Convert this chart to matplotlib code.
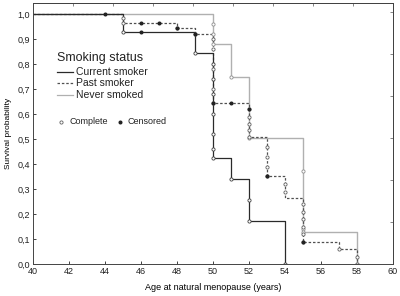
import matplotlib
matplotlib.use("Agg")
import matplotlib.pyplot as plt
from matplotlib.lines import Line2D

plt.rcParams['font.family'] = ['Liberation Sans', 'DejaVu Sans']

# Kaplan-Meier step data (time, survival)
current_t = [40, 45, 49, 50, 51, 52, 54]
current_s = [1.0, 0.928, 0.844, 0.424, 0.34, 0.172, 0.0]
past_t = [40, 45, 48, 49, 50, 52, 53, 54, 55, 57, 58]
past_s = [1.0, 0.963, 0.943, 0.92, 0.645, 0.51, 0.352, 0.264, 0.088, 0.06, 0.0]
never_t = [40, 50, 51, 52, 55, 58]
never_s = [1.0, 0.88, 0.75, 0.504, 0.128, 0.0]

# complete (event) markers
current_cx = [45, 49, 50, 50, 50, 50, 50, 50, 50, 51, 52, 52, 54]
current_cy = [0.928, 0.844, 0.80, 0.74, 0.68, 0.60, 0.52, 0.46, 0.424, 0.34, 0.256, 0.172, 0.0]
past_cx = [45, 45, 48, 49, 50, 50, 50, 50, 50, 52, 52, 52, 52, 53, 53, 53, 53, 54, 54, 55, 55, 55, 55, 55, 55, 57, 58, 58]
past_cy = [0.985, 0.963, 0.943, 0.92, 0.90, 0.86, 0.78, 0.70, 0.645, 0.59, 0.56, 0.535, 0.51, 0.47, 0.43, 0.39, 0.352, 0.32, 0.29, 0.24, 0.21, 0.18, 0.15, 0.12, 0.088, 0.06, 0.03, 0.0]
never_cx = [50, 50, 50, 51, 52, 52, 55, 55, 55, 58]
never_cy = [0.96, 0.92, 0.88, 0.75, 0.62, 0.504, 0.373, 0.14, 0.128, 0.0]

# censored markers
cens_x = [44, 46, 46, 47, 48, 49, 50, 51, 52, 53, 55]
cens_y = [1.0, 0.928, 0.963, 0.963, 0.945, 0.92, 0.645, 0.645, 0.62, 0.352, 0.088]

xticks = [40, 42, 44, 46, 48, 50, 52, 54, 56, 58, 60]
yticks = [0.0, 0.1, 0.2, 0.3, 0.4, 0.5, 0.6, 0.7, 0.8, 0.9, 1.0]

W, H = 400, 296
fig = plt.figure(figsize=(W / 100, H / 100), dpi=100)
ax = fig.add_axes([33 / W, 1 - 264 / H, 360 / W, 261 / H])

c_cur = '#2a2a2a'
c_past = '#505050'
c_never = '#b0b0b0'

ax.step(never_t, never_s, where='post', color=c_never, lw=1.0)
ax.step(past_t, past_s, where='post', color=c_past, lw=0.9, ls=(0, (2, 1.5)))
ax.step(current_t, current_s, where='post', color=c_cur, lw=0.9)

ax.plot(never_cx, never_cy, 'o', mfc='white', mec='#909090', ms=2.3, mew=0.6, ls='none')
ax.plot(past_cx, past_cy, 'o', mfc='white', mec='#606060', ms=2.3, mew=0.6, ls='none')
ax.plot(current_cx, current_cy, 'o', mfc='white', mec='#404040', ms=2.3, mew=0.6, ls='none')
ax.plot(cens_x, cens_y, 'o', color='#222222', ms=1.9, ls='none')

ax.set_xlim(40, 60)
ax.set_ylim(0, 1.044)
ax.set_xticks(xticks)
ax.set_yticks(yticks)
ax.set_xticklabels([str(v) for v in xticks], fontsize=6.5)
ax.set_yticklabels([f"{v:.1f}".replace('.', ',') for v in yticks], fontsize=6.5)
ax.tick_params(direction='in', length=2, width=0.6, pad=2, colors='#222222')

# secondary unlabeled ticks on top and right
axt = ax.secondary_xaxis('top')
axt.set_xticks([40 + 20 * k / 9 for k in range(1, 9)])
axt.set_xticklabels([])
axt.tick_params(direction='in', length=2, width=0.5, colors='#555555')
axr = ax.secondary_yaxis('right')
axr.set_yticks([0.168 * k for k in range(1, 7)])
axr.set_yticklabels([])
axr.tick_params(direction='in', length=2, width=0.5, colors='#555555')

for sp in ax.spines.values():
    sp.set_linewidth(0.7)
    sp.set_color('#444444')
axt.spines['top'].set_linewidth(0.7)
axr.spines['right'].set_linewidth(0.7)

ax.set_xlabel('Age at natural menopause (years)', fontsize=6.5, labelpad=5)
ax.set_ylabel('Survival probability', fontsize=6, labelpad=4)

# legend drawn manually (pixel positions)
def fx(px):
    return px / W

def fy(py):
    return 1 - py / H

fig.text(fx(57), fy(58), 'Smoking status', fontsize=9, va='center', ha='left', color='#222222')
entries = [('Current smoker', c_cur, '-', 72), ('Past smoker', c_past, (0, (2, 1.5)), 83),
           ('Never smoked', c_never, '-', 95)]
for label, col, ls, py in entries:
    fig.add_artist(Line2D([fx(57), fx(73)], [fy(py), fy(py)], color=col, ls=ls, lw=0.9,
                          transform=fig.transFigure))
    fig.text(fx(76), fy(py), label, fontsize=7.5, va='center', ha='left', color='#222222')

fig.add_artist(Line2D([fx(61)], [fy(122)], marker='o', mfc='white', mec='#606060', ms=2.3, mew=0.6,
                      ls='none', transform=fig.transFigure))
fig.text(fx(69), fy(122), 'Complete', fontsize=6.5, va='center', ha='left', color='#222222')
fig.add_artist(Line2D([fx(120)], [fy(122)], marker='o', color='#222222', ms=1.9, ls='none',
                      transform=fig.transFigure))
fig.text(fx(128), fy(122), 'Censored', fontsize=6.5, va='center', ha='left', color='#222222')

fig.savefig('out.png', dpi=100)
